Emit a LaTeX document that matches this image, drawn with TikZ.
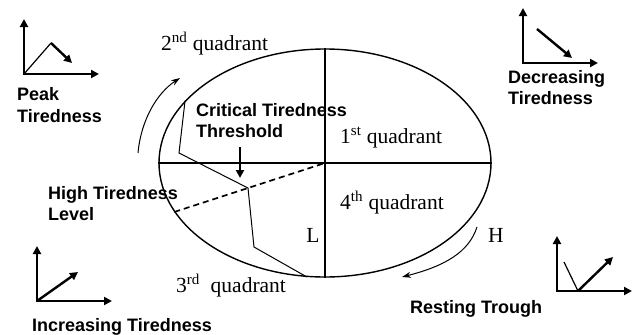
\documentclass[tikz,border=0pt]{standalone}
\usepackage{fontspec}
\setmainfont{Liberation Serif}
\setsansfont{Liberation Sans}
\usetikzlibrary{arrows.meta,shapes.geometric,calc}
\definecolor{paper}{HTML}{FFFFFF}
\definecolor{ink}{HTML}{000000}
\newcommand{\CycX}{325}
\newcommand{\CycY}{163}
\newcommand{\CycW}{332pt}
\newcommand{\CycH}{228pt}
\newcommand{\AxisW}{75}
\newcommand{\AxisH}{55}

\begin{document}
\begin{tikzpicture}[
    x=1pt, y=-1pt, ink,
    rim/.style={draw=ink, line width=1.4pt},
    trace/.style={draw=ink, line width=1pt},
    threshold/.style={draw=ink, line width=1.7pt, dash pattern=on 6pt off 4pt},
    axis/.style={{Triangle[length=8pt,width=8pt]}-{Triangle[length=8pt,width=8pt]}, line width=2.4pt, line join=miter, draw=ink},
    trend/.style={-{Triangle[length=8pt,width=8pt]}, line width=2.4pt, draw=ink},
    lead/.style={draw=ink, line width=1.2pt},
    sweep/.style={-{Stealth[length=9pt,width=6pt]}, line width=1pt, draw=ink},
    quad/.style={font=\fontsize{21.5}{24}\selectfont, inner sep=0pt, anchor=base west},
    letter/.style={font=\fontsize{21.5}{24}\selectfont, inner sep=0pt, anchor=base},
    phase/.style={font=\sffamily\bfseries\fontsize{18}{21.5}\selectfont, align=left, inner sep=0pt, anchor=north west},
  ]

\useasboundingbox[fill=paper] (0,0) rectangle (633,335);

% --- The cycle, cut into its four quadrants ----------------------------------
\node[ellipse, rim, minimum width=\CycW, minimum height=\CycH, inner sep=0pt] (cycle) at (\CycX,\CycY) {};
\draw[rim] (cycle.west) -- (cycle.east);
\draw[rim] (cycle.north) -- (cycle.south);

\node[quad] (q2) at (161,50) {2\textsuperscript{nd} quadrant};
\node[quad] (q1) at (340,143) {1\textsuperscript{st} quadrant};
\node[quad] (q4) at (340,209) {4\textsuperscript{th} quadrant};
\node[quad] (q3) at (176,292) {3\textsuperscript{rd}\ \ quadrant};
\node[letter] (low) at (313,242) {L};
\node[letter] (high) at (496,242) {H};

% --- The tiredness trace and the threshold it crosses ------------------------
\coordinate (k1) at (179,153);
\coordinate (k2) at (248,188);
\coordinate (k3) at (254,247);
\draw[trace] (cycle.156) -- (k1) -- (k2) -- (k3) -- (cycle.261);
\draw[threshold] (cycle.198) -- (cycle.center);

\node[phase] (crit) at (196,103) {Critical Tiredness\\Threshold};
\coordinate (critTail) at (240,147);
\coordinate (critTip) at (240,178);
\draw[trend] (critTail) -- (critTip);
\node[phase] (highlvl) at (48,186) {High Tiredness\\Level};

% --- Direction of travel round the cycle -------------------------------------
\coordinate (riseA) at (138,153);
\coordinate (riseB) at (180,78);
\draw[sweep] (riseA) .. controls (141,120) and (157,93) .. (riseB);
\coordinate (fallA) at (477,227);
\coordinate (fallB) at (402,277);
\draw[sweep] (fallA) .. controls (469,252) and (445,266) .. (fallB);

% --- Small plots: one per phase ---------------------------------------------
\foreach \ic/\ox/\oy in {peak/24/74, dec/523/63, inc/37/301, rest/557/291} {
  \coordinate (\ic) at (\ox,\oy);
  \draw[axis] (\ic) ++(0,-\AxisH) -- (\ic) -- ++(\AxisW,0);
}
\coordinate (peakTop) at (51,43);
\draw[lead] (peak) -- (peakTop);
\draw[trend] (peakTop) -- (72,63);
\draw[trend] (537,29) -- (572,58);
\draw[trend] (inc) -- (78,272);
\coordinate (restLow) at (578,291);
\draw[lead] (564,262) -- (restLow);
\draw[trend] (restLow) -- (613,257);

\node[phase] (peaklbl) at (17,87.5) {Peak\\Tiredness};
\node[phase] (declbl) at (508,70) {Decreasing\\Tiredness};
\node[phase, anchor=base west] (inclbl) at (32,331) {Increasing Tiredness};
\node[phase, anchor=base west] (restlbl) at (410,313) {Resting Trough};

\end{tikzpicture}
\end{document}
